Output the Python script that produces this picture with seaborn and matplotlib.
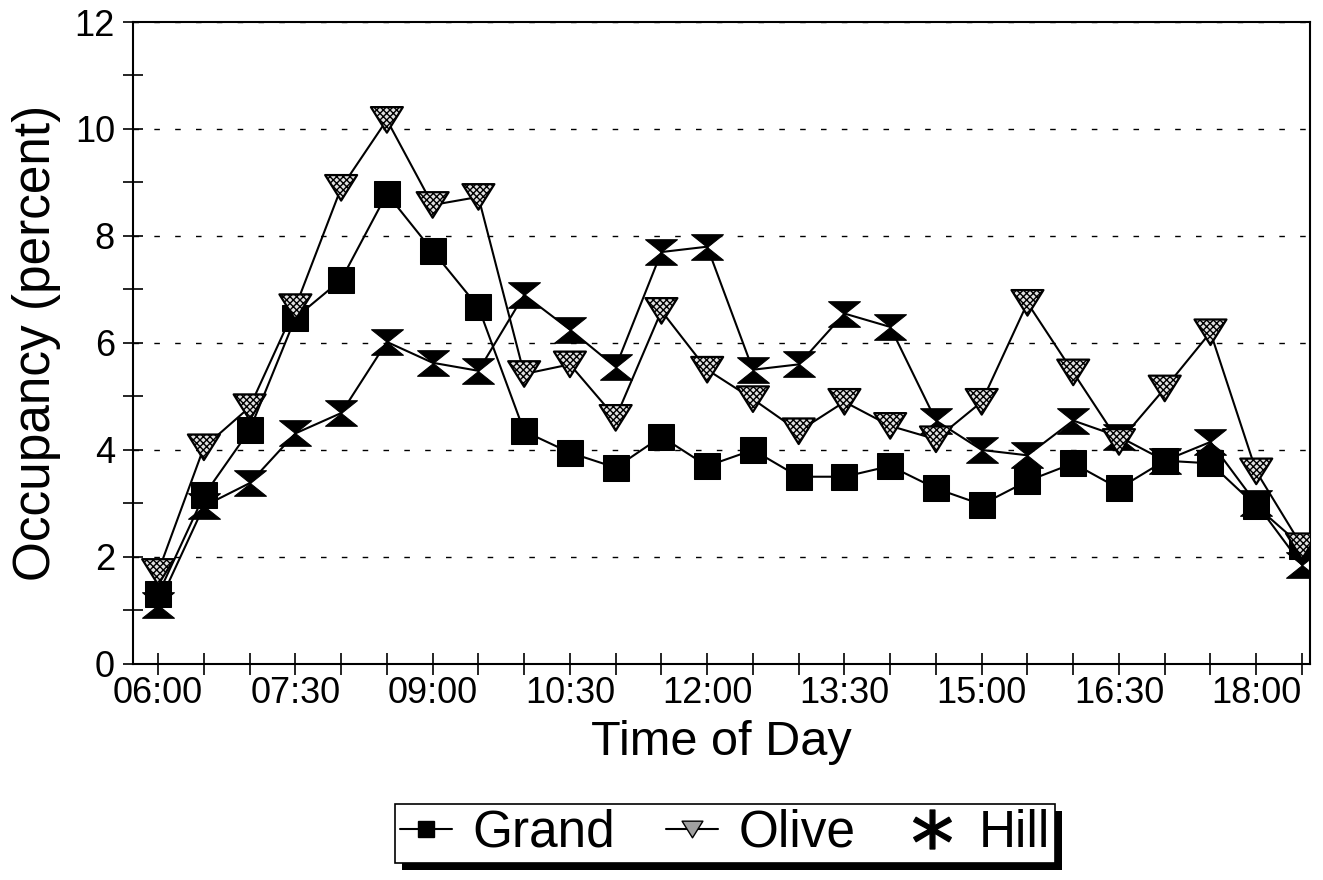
import matplotlib.pyplot as plt
import matplotlib.patheffects as pe
from matplotlib.lines import Line2D
from matplotlib.path import Path
import pandas as pd
import seaborn as sns

# Occupancy (percent) by half hour
times = ['06:00', '06:30', '07:00', '07:30', '08:00', '08:30', '09:00', '09:30',
         '10:00', '10:30', '11:00', '11:30', '12:00', '12:30', '13:00', '13:30',
         '14:00', '14:30', '15:00', '15:30', '16:00', '16:30', '17:00', '17:30',
         '18:00', '18:30']
grand = [1.3, 3.15, 4.37, 6.47, 7.18, 8.79, 7.72, 6.67, 4.35, 3.95, 3.67, 4.25, 3.7,
         4.0, 3.5, 3.5, 3.7, 3.28, 2.98, 3.42, 3.75, 3.28, 3.8, 3.75, 2.95, 2.2]
olive = [1.72, 4.05, 4.8, 6.67, 8.9, 10.17, 8.58, 8.73, 5.42, 5.6, 4.6, 6.6, 5.5,
         4.95, 4.35, 4.9, 4.45, 4.2, 4.9, 6.75, 5.45, 4.15, 5.15, 6.2, 3.6, 2.2]
hill = [1.1, 2.95, 3.38, 4.31, 4.69, 6.02, 5.63, 5.48, 6.9, 6.25, 5.55, 7.7, 7.8,
        5.5, 5.6, 6.55, 6.3, 4.55, 4.0, 3.9, 4.55, 4.25, 3.8, 4.15, 3.0, 1.85]

df = pd.DataFrame({'time': times, 'Grand': grand, 'Olive': olive, 'Hill': hill})
df['slot'] = range(len(times))

sns.set_style('white')
plt.rcParams['font.family'] = ['Liberation Sans', 'DejaVu Sans']
plt.rcParams['hatch.linewidth'] = 1.0
plt.rcParams['text.color'] = 'black'
plt.rcParams['axes.labelcolor'] = 'black'
plt.rcParams['xtick.color'] = 'black'
plt.rcParams['ytick.color'] = 'black'

# custom marker shapes: flat down-triangle and hourglass
tri = Path([(-1, 0.8), (1, 0.8), (0, -0.8), (0, 0)],
           [Path.MOVETO, Path.LINETO, Path.LINETO, Path.CLOSEPOLY])
hourglass = Path([(-1, 0.8), (1, 0.8), (-1, -0.8), (1, -0.8), (0, 0)],
                 [Path.MOVETO, Path.LINETO, Path.LINETO, Path.LINETO, Path.CLOSEPOLY])

fig, ax = plt.subplots(figsize=(13.23, 8.8), dpi=100)
fig.subplots_adjust(left=0.1005, right=0.99, bottom=0.2455, top=0.975)

sns.lineplot(data=df, x='slot', y='Grand', color='black', lw=1.5, marker='s',
             markersize=19, markeredgecolor='black', markerfacecolor='black', ax=ax, zorder=3)
sns.lineplot(data=df, x='slot', y='Hill', color='black', lw=1.5, marker=hourglass,
             markersize=23, markeredgecolor='black', markerfacecolor='black', ax=ax, zorder=3)
sns.lineplot(data=df, x='slot', y='Olive', color='black', lw=1.5, ax=ax, zorder=3)
sns.scatterplot(data=df, x='slot', y='Olive', marker=tri, s=23 ** 2, color='#e0e0e0',
                edgecolor='black', linewidth=1.6, hatch='xxxxx', ax=ax, zorder=4)

ax.set_xlim(-0.55, 25.17)
ax.set_ylim(0, 12)
ax.set_xticks(df['slot'])
ax.set_xticklabels([t if i % 3 == 0 else '' for i, t in enumerate(times)])
ax.set_yticks(range(0, 13, 2))
ax.set_yticks(range(1, 12, 2), minor=True)
ax.tick_params(axis='x', direction='inout', length=16, width=1.2, labelsize=26,
               pad=1, colors='black', bottom=True)
ax.tick_params(axis='y', which='both', direction='inout', length=14, width=1.2,
               labelsize=26, pad=6, colors='black', left=True)
ax.grid(True, axis='y', which='major', color='black', lw=1, linestyle=(0, (4, 11)))
for s in ax.spines.values():
    s.set_color('black')
    s.set_linewidth(1.5)

ax.set_xlabel('Time of Day', fontsize=35, labelpad=6)
ax.set_ylabel('Occupancy (percent)', fontsize=37, labelpad=10)

handles = [
    Line2D([], [], color='black', lw=1.5, marker='s', markersize=11),
    Line2D([], [], color='black', lw=1.5, marker=tri, markersize=15,
           markerfacecolor='#a0a0a0', markeredgecolor='black'),
    Line2D([], [], color='black', lw=0, marker='$*$', markersize=28),
]
leg = fig.legend(handles, ['Grand', 'Olive', 'Hill'], loc='center',
                 bbox_to_anchor=(0.548, 0.053), ncol=3, fontsize=37, frameon=True,
                 fancybox=False, edgecolor='black', facecolor='white', framealpha=1,
                 borderpad=0.1, handlelength=1.0, handletextpad=0.4, columnspacing=1.0)
leg.get_frame().set_linewidth(1.2)
leg.get_frame().set_path_effects([
    pe.SimplePatchShadow(offset=(5, -5), shadow_rgbFace='black', alpha=1), pe.Normal()])

fig.savefig('out.png', dpi=100, facecolor='white')
